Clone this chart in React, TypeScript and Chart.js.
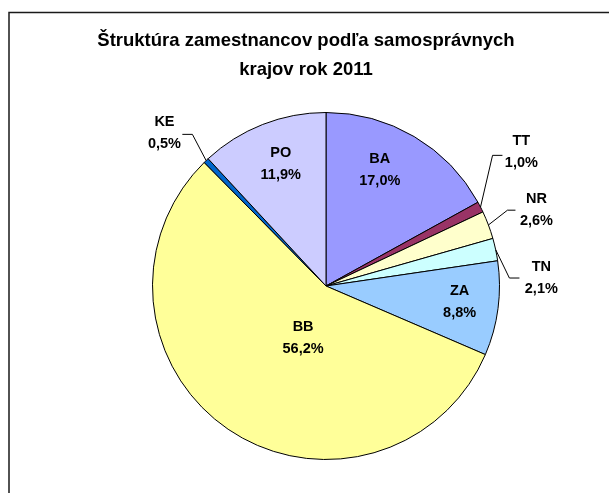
import React, { useEffect, useRef } from "react";
import { Chart, registerables } from "chart.js";

Chart.register(...registerables);

const titleLines = ["Štruktúra zamestnancov podľa samosprávnych", "krajov rok 2011"];
const regions = ["BA", "TT", "NR", "TN", "ZA", "BB", "KE", "PO"];
const shares = [17.0, 1.0, 2.6, 2.1, 8.8, 56.2, 0.5, 11.9];
const shareLabels = ["17,0%", "1,0%", "2,6%", "2,1%", "8,8%", "56,2%", "0,5%", "11,9%"];
const sliceColors = ["#9999FF", "#993366", "#FFFFCC", "#CCFFFF", "#99CCFF", "#FFFF99", "#0066CC", "#CCCCFF"];

// label placement in units of the pie radius, relative to the pie centre
// leader: [bendX, bendY, endX, endY] or null for labels inside the slice
const labelLayout: { dx: number; dy: number; leader: number[] | null }[] = [
  { dx: 0.31, dy: -0.667, leader: null },
  { dx: 1.126, dy: -0.77, leader: [0.96, -0.753, 1.017, -0.753] },
  { dx: 1.213, dy: -0.44, leader: [1.046, -0.437, 1.092, -0.437] },
  { dx: 1.241, dy: -0.046, leader: [1.057, -0.046, 1.115, -0.046] },
  { dx: 0.77, dy: 0.092, leader: null },
  { dx: -0.132, dy: 0.302, leader: null },
  { dx: -0.931, dy: -0.879, leader: [-0.77, -0.874, -0.828, -0.874] },
  { dx: -0.261, dy: -0.701, leader: null },
];

const FONT = '"Liberation Sans", Arial, sans-serif';

const decorPlugin = {
  id: "decor",
  beforeDraw(chart: any) {
    const ctx = chart.ctx;
    ctx.save();
    ctx.fillStyle = "#ffffff";
    ctx.fillRect(0, 0, chart.width, chart.height);
    ctx.strokeStyle = "#1a1a1a";
    ctx.lineWidth = 1.5;
    ctx.beginPath();
    ctx.moveTo(9, chart.height + 5);
    ctx.lineTo(9, 12.5);
    ctx.lineTo(chart.width + 5, 12.5);
    ctx.stroke();
    // title
    ctx.fillStyle = "#000";
    ctx.font = `bold 18.5px ${FONT}`;
    ctx.textAlign = "center";
    ctx.textBaseline = "middle";
    ctx.fillText(titleLines[0], 306, 41);
    ctx.fillText(titleLines[1], 306, 70);
    ctx.restore();
  },
  afterDraw(chart: any) {
    const ctx = chart.ctx;
    const meta = chart.getDatasetMeta(0);
    ctx.save();
    ctx.font = `bold 14.5px ${FONT}`;
    ctx.textAlign = "center";
    ctx.textBaseline = "middle";
    meta.data.forEach((arc: any, i: number) => {
      const { x, y, startAngle, endAngle, outerRadius } = arc.getProps(
        ["x", "y", "startAngle", "endAngle", "outerRadius"],
        true
      );
      const r = outerRadius;
      const lay = labelLayout[i];
      const lx = x + lay.dx * r;
      const ly = y + lay.dy * r;
      if (lay.leader) {
        const mid = (startAngle + endAngle) / 2;
        ctx.strokeStyle = "#000";
        ctx.lineWidth = 1;
        ctx.beginPath();
        ctx.moveTo(x + Math.cos(mid) * r, y + Math.sin(mid) * r);
        ctx.lineTo(x + lay.leader[0] * r, y + lay.leader[1] * r);
        ctx.lineTo(x + lay.leader[2] * r, y + lay.leader[3] * r);
        ctx.stroke();
      }
      ctx.fillStyle = "#000";
      ctx.fillText(regions[i], lx, ly - 11);
      ctx.fillText(shareLabels[i], lx, ly + 11);
    });
    ctx.restore();
  },
};

export default function App() {
  const ref = useRef<HTMLCanvasElement | null>(null);
  useEffect(() => {
    if (!ref.current) return;
    const chart = new Chart(ref.current, {
      type: "pie",
      data: {
        labels: regions,
        datasets: [
          {
            data: shares,
            backgroundColor: sliceColors,
            borderColor: "#000000",
            borderWidth: 1,
          },
        ],
      },
      options: {
        responsive: false,
        animation: false,
        layout: { padding: { left: 152, right: 109, top: 112, bottom: 33 } },
        plugins: {
          legend: { display: false },
          tooltip: { enabled: false },
          title: { display: false },
        },
      },
      plugins: [decorPlugin],
    });
    return () => chart.destroy();
  }, []);
  return (
    <div style={{ position: "absolute", left: 0, top: 0, width: 609, height: 493 }}>
      <canvas ref={ref} width={609} height={493} style={{ display: "block" }} />
    </div>
  );
}
